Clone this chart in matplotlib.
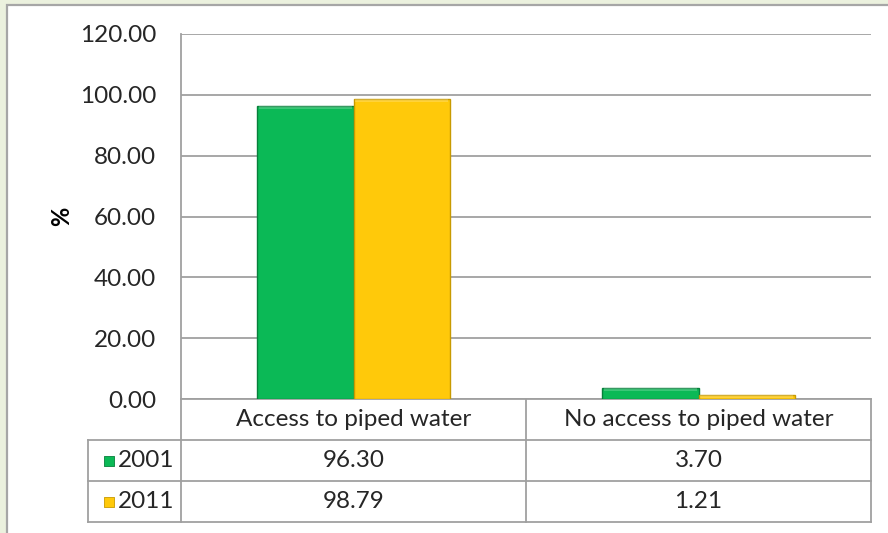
import matplotlib.pyplot as plt
import matplotlib.transforms as mtransforms
from matplotlib.patches import Rectangle

categories = ["Access to piped water", "No access to piped water"]
years = ["2001", "2011"]
values_2001 = [96.30, 3.70]
values_2011 = [98.79, 1.21]
y_ticks = [0, 20, 40, 60, 80, 100, 120]

colors = ["#0BB956", "#FFC90A"]
edges = ["#07803B", "#C89A00"]

W, H = 888, 533
fig = plt.figure(figsize=(W / 100, H / 100), dpi=100)
fig.patch.set_facecolor("#EBF1DE")
plt.rcParams["font.family"] = ["Lato", "DejaVu Sans"]

# white chart panel with grey frame
fig.patches.append(Rectangle((7 / W, -0.02), 1.0, (H - 5) / H + 0.02,
                             transform=fig.transFigure, facecolor="white",
                             edgecolor="#A6A6A6", lw=1.6, zorder=-5))

left, right, top, base = 181, 871, 34, 399
ax = fig.add_axes([left / W, (H - base) / H, (right - left) / W, (base - top) / H])
ax.set_facecolor("none")
ax.set_xlim(0, 2)
ax.set_ylim(0, 120)
ax.set_yticks(y_ticks)
ax.set_yticklabels([f"{v:.2f}" for v in y_ticks], fontsize=17.5, color="#262626")
ax.tick_params(axis="y", length=0, pad=18)
ax.tick_params(axis="x", length=0, labelbottom=False)
ax.grid(axis="y", color="#A0A0A0", lw=1.3)
ax.set_axisbelow(True)
for s in ["top", "right", "bottom"]:
    ax.spines[s].set_visible(False)
ax.spines["left"].set_color("#A0A0A0")
ax.spines["left"].set_linewidth(1.3)
ax.set_ylabel("%", fontsize=17, fontweight="bold", labelpad=5)

# bars
bw = 0.28
series = [values_2001, values_2011]
for i, vals in enumerate(series):
    xs = [c + 0.5 + (i - 0.5) * bw for c in range(len(categories))]
    ax.bar(xs, vals, width=bw, color=colors[i], edgecolor=edges[i], lw=1.0, zorder=3)
    # light bevel along the top edge
    ax.bar(xs, [min(v, 1.0) for v in vals], bottom=[max(v - 1.0, 0) for v in vals],
           width=bw * 0.96, color="white", alpha=0.2, lw=0, zorder=4)

# data table below the plot
row_h = 41 / (base - top)
trans = mtransforms.blended_transform_factory(ax.transData, ax.transAxes)
leg_x = -93 / 345
line_kw = dict(color="#A0A0A0", lw=1.3, transform=trans, clip_on=False)

ax.plot([0, 2], [0, 0], **line_kw)
for k in (1, 2, 3):
    ax.plot([leg_x, 2], [-k * row_h] * 2, **line_kw)
for x in (0, 1, 2):
    ax.plot([x, x], [0, -3 * row_h], **line_kw)
ax.plot([leg_x, leg_x], [-row_h, -3 * row_h], **line_kw)

for c, name in enumerate(categories):
    ax.text(c + 0.5, -0.5 * row_h, name, transform=trans, ha="center", va="center",
            fontsize=17.5, color="#262626")
for r, vals in enumerate(series):
    y = -(r + 1.5) * row_h
    for c, v in enumerate(vals):
        ax.text(c + 0.5, y, f"{v:.2f}", transform=trans, ha="center", va="center",
                fontsize=17.5, color="#262626")
    ax.scatter([leg_x + 0.06], [y], marker="s", s=60, color=colors[r],
               edgecolor=edges[r], lw=0.6, transform=trans, clip_on=False, zorder=5)
    ax.text(leg_x + 0.088, y, years[r], transform=trans, ha="left", va="center",
            fontsize=17.5, color="#262626")

fig.savefig("out.png", dpi=100, facecolor=fig.get_facecolor())
